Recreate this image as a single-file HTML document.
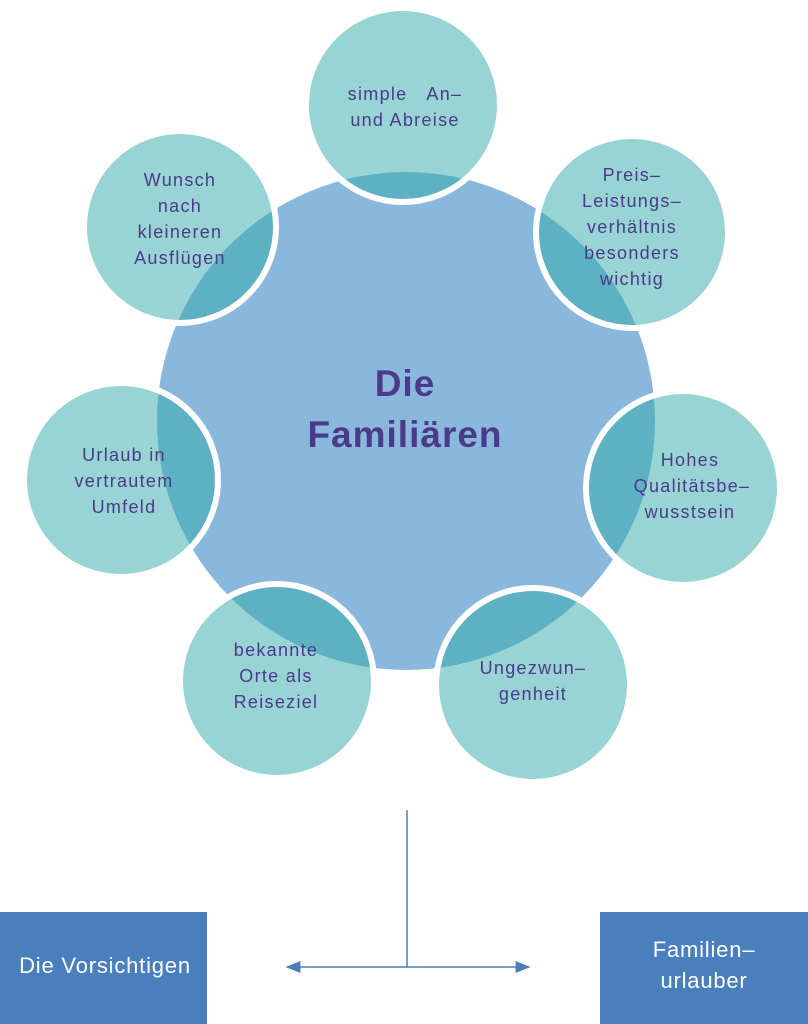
<!DOCTYPE html>
<html><head><meta charset="utf-8"><style>
html,body{margin:0;padding:0;background:#fff;}
body{width:808px;height:1024px;overflow:hidden;position:relative;font-family:"Liberation Sans",sans-serif;}
svg{position:absolute;left:0;top:0;}
</style></head><body>
<svg width="808" height="1024" viewBox="0 0 808 1024">
<defs>
<marker id="a" markerWidth="10" markerHeight="8" refX="9" refY="4" orient="auto"><path d="M0,0 L10,4 L0,8 z" fill="#4a7fbe"/></marker>
</defs>
<circle cx="406" cy="421" r="249" fill="#8ab8dd"/>
<g fill="rgba(52,171,171,0.51)" stroke="#fff" stroke-width="6">
<circle cx="403" cy="105" r="97"/>
<circle cx="632" cy="232" r="96"/>
<circle cx="683" cy="488" r="97"/>
<circle cx="533" cy="685" r="97"/>
<circle cx="277" cy="681" r="97"/>
<circle cx="121" cy="480" r="97"/>
<circle cx="180" cy="227" r="96"/>
</g>
<g fill="#4b3a8c" font-size="18" letter-spacing="1.3" text-anchor="middle" font-family="Liberation Sans, sans-serif">
<text x="405" y="100">simple&#160;&#160;&#160;An–</text>
<text x="405" y="126">und Abreise</text>
<text x="632" y="181">Preis–</text>
<text x="632" y="207">Leistungs–</text>
<text x="632" y="233">verhältnis</text>
<text x="632" y="259">besonders</text>
<text x="632" y="285">wichtig</text>
<text x="690" y="466">Hohes</text>
<text x="692" y="492">Qualitätsbe–</text>
<text x="690" y="518">wusstsein</text>
<text x="533" y="674">Ungezwun–</text>
<text x="533" y="700">genheit</text>
<text x="276" y="656">bekannte</text>
<text x="276" y="682">Orte als</text>
<text x="276" y="708">Reiseziel</text>
<text x="124" y="461">Urlaub in</text>
<text x="124" y="487">vertrautem</text>
<text x="124" y="513">Umfeld</text>
<text x="180" y="186">Wunsch</text>
<text x="180" y="212">nach</text>
<text x="180" y="238">kleineren</text>
<text x="180" y="264">Ausflügen</text>
</g>
<g fill="#4b3a8c" font-size="37" font-weight="bold" letter-spacing="1" text-anchor="middle">
<text x="405" y="396">Die</text>
<text x="405" y="447">Familiären</text>
</g>
<line x1="407" y1="810" x2="407" y2="967" stroke="#4a7fbe" stroke-width="1.5"/>
<line x1="407" y1="967" x2="287" y2="967" stroke="#4a7fbe" stroke-width="1.5" marker-end="url(#a)"/>
<line x1="407" y1="967" x2="529" y2="967" stroke="#4a7fbe" stroke-width="1.5" marker-end="url(#a)"/>
<rect x="0" y="912" width="207" height="112" fill="#4a7fbe"/>
<rect x="600" y="912" width="208" height="112" fill="#4a7fbe"/>
<g fill="#fff" font-size="22" letter-spacing="0.8" text-anchor="middle">
<text x="105" y="973">Die Vorsichtigen</text>
<text x="704" y="957">Familien–</text>
<text x="704" y="988">urlauber</text>
</g>
</svg>
</body></html>
